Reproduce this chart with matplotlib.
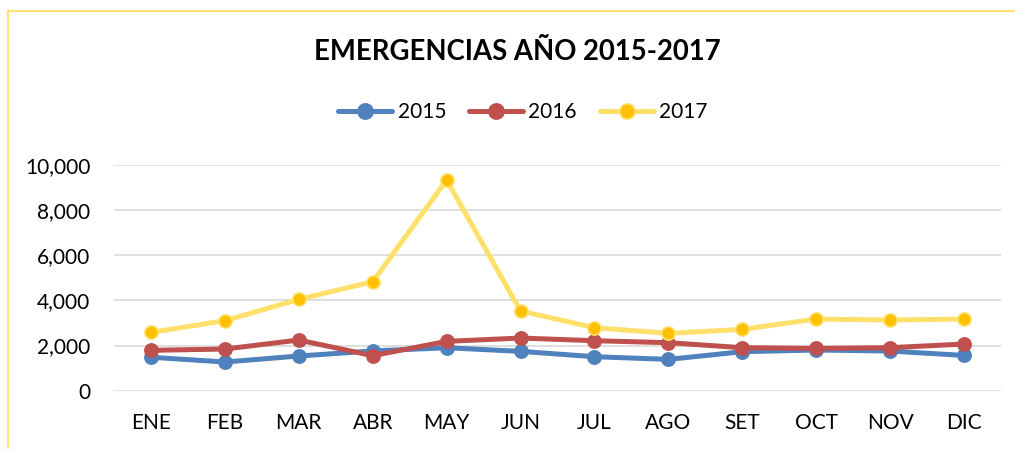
import matplotlib
matplotlib.use("Agg")
import matplotlib.pyplot as plt
from matplotlib.lines import Line2D
from matplotlib.ticker import FuncFormatter

months = ["ENE", "FEB", "MAR", "ABR", "MAY", "JUN", "JUL", "AGO", "SET", "OCT", "NOV", "DIC"]
s2015 = [1480, 1270, 1534, 1760, 1900, 1740, 1504, 1386, 1726, 1799, 1755, 1560]
s2016 = [1785, 1844, 2242, 1549, 2183, 2330, 2212, 2124, 1903, 1870, 1903, 2065]
s2017 = [2581, 3097, 4041, 4823, 9322, 3525, 2788, 2537, 2714, 3171, 3127, 3171]
series_labels = ["2015", "2016", "2017"]
yticks = [0, 2000, 4000, 6000, 8000, 10000]

plt.rcParams['font.family'] = ['Lato', 'DejaVu Sans']

W, H = 1015, 449
fig = plt.figure(figsize=(W / 100, H / 100), dpi=100)
ax = fig.add_axes([114 / W, (H - 390.7) / H, (1001 - 114) / W, (390.7 - 164.7) / H])

x = list(range(len(months)))
styles = [
    dict(color="#4F81BD", mfc="#4F81BD", mec="#4F81BD"),
    dict(color="#C0504D", mfc="#C0504D", mec="#C0504D"),
    dict(color="#FFE06B", mfc="#FFC000", mec="#FFE06B"),
]
for data, lab, st in zip([s2015, s2016, s2017], series_labels, styles):
    ax.plot(x, data, color=st["color"], lw=3.6, marker="o", ms=9.5,
            mfc=st["mfc"], mec=st["mec"], mew=1.2, label=lab,
            solid_capstyle="round", zorder=3)

ax.set_xlim(-0.5, len(months) - 0.5)
ax.set_ylim(0, 10000)
ax.set_yticks(yticks)
ax.yaxis.set_major_formatter(FuncFormatter(lambda v, p: f"{int(v):,}"))
ax.set_xticks(x)
ax.set_xticklabels(months)
ax.tick_params(axis="both", length=0, labelsize=15, colors="#000000")
ax.tick_params(axis="y", pad=17)
ax.tick_params(axis="x", pad=16)
ax.grid(axis="y", color="#D9D9D9", lw=1.2, zorder=0)
ax.set_axisbelow(True)
for sp in ax.spines.values():
    sp.set_visible(False)

fig.text(517 / W, 1 - 52 / H, "EMERGENCIAS AÑO 2015-2017", ha="center", va="center",
         fontsize=19.8, fontweight="bold")

leg = fig.legend(loc="center", bbox_to_anchor=(523 / W, 1 - 112 / H), ncol=3, frameon=False,
                 fontsize=15, handlelength=2.6, handletextpad=0.25, columnspacing=1.1,
                 markerscale=1.15, borderaxespad=0)

# outer border (top and left)
bc = "#FFE07A"
fig.add_artist(Line2D([7.5 / W, 1.0], [1 - 11 / H, 1 - 11 / H], color=bc, lw=1.5,
                      transform=fig.transFigure))
fig.add_artist(Line2D([7.5 / W, 7.5 / W], [0, 1 - 11 / H], color=bc, lw=1.5,
                      transform=fig.transFigure))

fig.savefig("out.png", dpi=100)
